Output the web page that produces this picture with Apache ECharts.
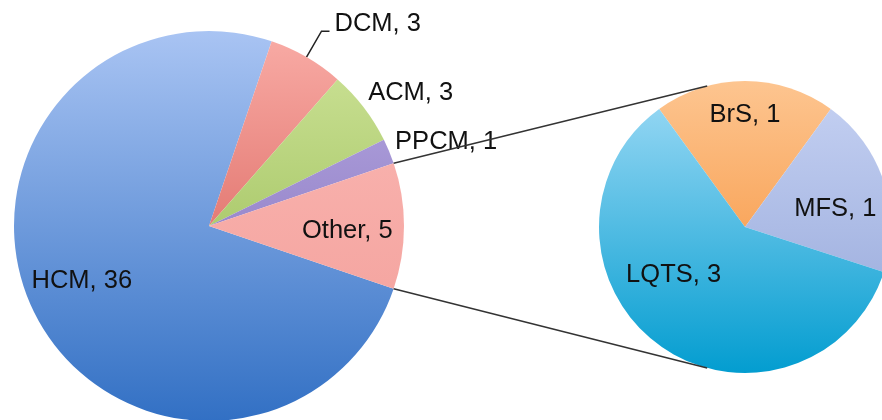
<!DOCTYPE html>
<html>
<head>
<meta charset="utf-8">
<script src="https://cdn.jsdelivr.net/npm/echarts@6/dist/echarts.min.js"></script>
<style>
  html, body { margin: 0; padding: 0; background: #fff; }
  #chart { width: 882px; height: 420px; }
</style>
</head>
<body>
<div id="chart"></div>
<script>
// data
const mainNames = ['HCM', 'DCM', 'ACM', 'PPCM', 'Other'];
const mainValues = [36, 3, 3, 1, 5];
const subNames = ['BrS', 'MFS', 'LQTS'];
const subValues = [1, 1, 3];

// layout of the two pies (px)
const MAIN = { cx: 209, cy: 226, r: 195 };
const SUB = { cx: 745, cy: 227, r: 146 };
const LINK_ANGLE = 105; // where connectors touch the small pie
const FONT = 25.5;

// slice gradients, [top, bottom]
const colors = {
  HCM: ['#a9c4f3', '#3270c4'],
  DCM: ['#f9aca6', '#cf4a43'],
  ACM: ['#cfe49a', '#8cb345'],
  PPCM: ['#b9abe3', '#7a67b6'],
  Other: ['#fbbab6', '#f29c97'],
  BrS: ['#fdc590', '#f5892c'],
  MFS: ['#c6d2f3', '#93a5d8'],
  LQTS: ['#a0dbf6', '#039dd0']
};

// label placement: [radius fraction, angle tweak in deg]; null = outside with leader line
const labelPlace = {
  HCM: [0.71, -3],
  DCM: null,
  ACM: [1.24, -4],
  PPCM: [1.29, -3],
  Other: [0.71, -2],
  BrS: [0.77, 0],
  MFS: [0.63, -7],
  LQTS: [0.59, -20]
};

const sum = (arr) => arr.reduce((a, b) => a + b, 0);
const mainTotal = sum(mainValues);
const subTotal = sum(subValues);

// 'Other' is centred on the right-hand side, clockwise from there
const otherDeg = mainValues[mainNames.indexOf('Other')] / mainTotal * 360;
const mainStart = 360 - otherDeg / 2;
// first slice of the small pie centred at the top
const subStart = 90 + subValues[0] / subTotal * 360 / 2;

const midAngles = (values, start) => {
  const total = sum(values);
  let a = start;
  return values.map((v) => {
    const span = v / total * 360;
    const mid = a - span / 2;
    a -= span;
    return mid;
  });
};
const mainMid = midAngles(mainValues, mainStart);
const subMid = midAngles(subValues, subStart);

const polar = (p, rad, deg) => {
  const t = deg * Math.PI / 180;
  return [p.cx + rad * Math.cos(t), p.cy - rad * Math.sin(t)];
};

const grad = (name, p) => new echarts.graphic.LinearGradient(
  0, p.cy - p.r, 0, p.cy + p.r,
  [{ offset: 0, color: colors[name][0] }, { offset: 1, color: colors[name][1] }],
  true
);

const buildData = (names, values, p) => names.map((name, i) => {
  const item = { name: name, value: values[i], itemStyle: { color: grad(name, p) } };
  if (labelPlace[name] === null) {
    // leader line ends under the text, Excel style
    item.label = {
      position: 'outside',
      formatter: '{t|{b}, {c}}\n{s|}',
      rich: {
        t: { fontSize: FONT, lineHeight: 30, color: '#111' },
        s: { fontSize: 10, lineHeight: 14, height: 14 }
      }
    };
    item.labelLine = { show: true, length: 30, length2: 8, lineStyle: { color: '#222', width: 1.5 } };
  }
  return item;
});

const makeLayout = (names, mids, p) => (params) => {
  const name = names[params.dataIndex];
  const place = labelPlace[name];
  if (!place) return {};
  const pt = polar(p, place[0] * p.r, mids[params.dataIndex] + place[1]);
  return { x: pt[0], y: pt[1], align: 'center', verticalAlign: 'middle' };
};

const labelStyle = {
  show: true,
  position: 'inside',
  formatter: '{b}, {c}',
  color: '#111',
  fontSize: FONT,
  fontFamily: 'Liberation Sans, Arial, sans-serif'
};

// connector lines from the 'Other' slice edges to the small pie
const otherIdx = mainNames.indexOf('Other');
const top1 = polar(MAIN, MAIN.r, mainMid[otherIdx] + otherDeg / 2);
const bot1 = polar(MAIN, MAIN.r, mainMid[otherIdx] - otherDeg / 2);
const top2 = polar(SUB, SUB.r, LINK_ANGLE);
const bot2 = polar(SUB, SUB.r, -LINK_ANGLE);

const chart = echarts.init(document.getElementById('chart'));
const option = {
  backgroundColor: '#fff',
  animation: false,
  series: [
    {
      type: 'pie',
      center: [MAIN.cx, MAIN.cy],
      radius: [0, MAIN.r],
      startAngle: mainStart,
      clockwise: true,
      avoidLabelOverlap: false,
      label: labelStyle,
      labelLine: { show: false },
      labelLayout: makeLayout(mainNames, mainMid, MAIN),
      emphasis: { disabled: true },
      data: buildData(mainNames, mainValues, MAIN)
    },
    {
      type: 'pie',
      center: [SUB.cx, SUB.cy],
      radius: [0, SUB.r],
      startAngle: subStart,
      clockwise: true,
      avoidLabelOverlap: false,
      label: labelStyle,
      labelLine: { show: false },
      labelLayout: makeLayout(subNames, subMid, SUB),
      emphasis: { disabled: true },
      data: buildData(subNames, subValues, SUB)
    }
  ],
  graphic: [
    {
      type: 'line', z: 100,
      shape: { x1: top1[0], y1: top1[1], x2: top2[0], y2: top2[1] },
      style: { stroke: '#333', lineWidth: 1.5 }
    },
    {
      type: 'line', z: 100,
      shape: { x1: bot1[0], y1: bot1[1], x2: bot2[0], y2: bot2[1] },
      style: { stroke: '#333', lineWidth: 1.5 }
    }
  ]
};
chart.setOption(option);
</script>
</body>
</html>
